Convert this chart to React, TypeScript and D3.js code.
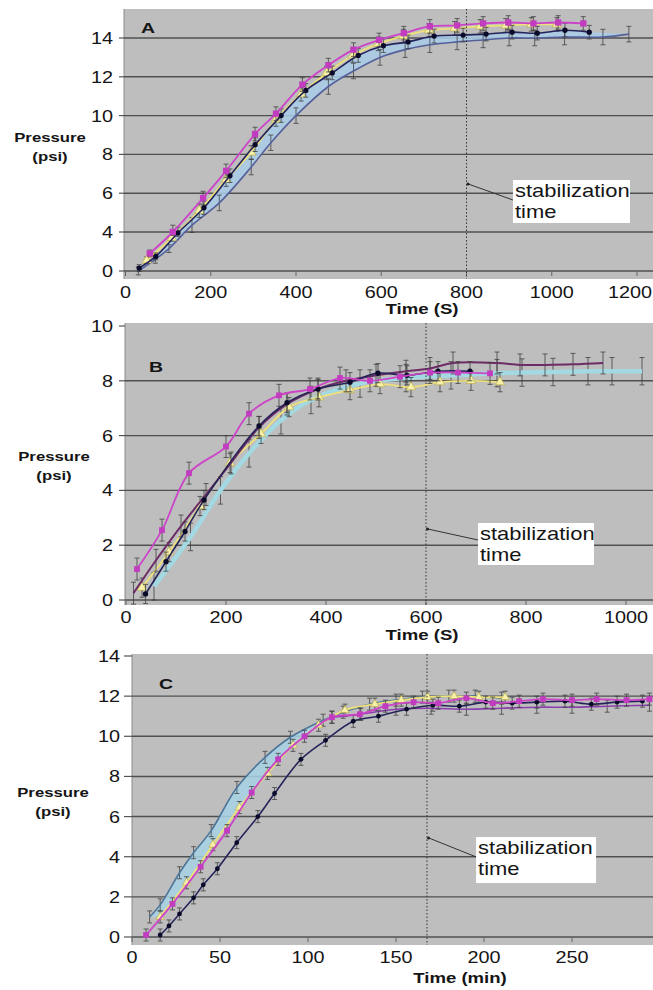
import React from 'react';
import * as d3 from 'd3';

// ---------- Panel A data: [time (s), pressure (psi)] ----------
const aMagenta = [[57,1.8],[111,4.0],[182,5.75],[236,7.15],[304,9.05],[353,10.1],[415,11.6],[476,12.6],[535,13.4],[595,13.9],[653,14.25],[714,14.6],[778,14.65],[839,14.75],[898,14.8],[957,14.75],[1015,14.8],[1074,14.75]];
const aYellow = [[50,1.1],[109,3.4],[173,5.1],[236,6.7],[295,8.1],[353,9.8],[412,11.1],[472,12.2],[533,13.1],[593,13.7],[652,14.1],[712,14.4],[772,14.5],[832,14.6],[892,14.65],[952,14.7],[1012,14.7]];
const aNavy = [[32,0.3],[71,1.5],[123,3.9],[184,5.25],[245,6.9],[304,8.5],[365,10.0],[423,11.3],[485,12.2],[546,13.1],[605,13.6],[663,13.8],[724,14.1],[792,14.15],[846,14.2],[907,14.3],[966,14.25],[1031,14.4],[1088,14.3]];
const aLower = [[30,0.0],[70,1.2],[102,2.3],[156,4.35],[220,5.5],[295,7.35],[341,8.6],[400,10.0],[476,11.5],[535,12.3],[597,13.0],[656,13.4],[714,13.65],[778,13.8],[839,13.9],[900,14.0],[960,14.0],[1030,14.05],[1120,14.05],[1181,14.2]];

// ---------- Panel B data ----------
const bMagenta = [[22,1.13],[72,2.55],[126,4.63],[200,5.6],[246,6.8],[306,7.47],[368,7.7],[428,8.1],[488,8.0],[548,8.15],[608,8.3],[664,8.3],[728,8.27]];
const bMaroon = [[15,0.25],[60,1.45],[110,2.7],[160,3.85],[210,5.0],[266,6.3],[322,7.15],[384,7.7],[440,8.0],[500,8.2],[560,8.35],[608,8.45],[654,8.65],[742,8.65],[788,8.58],[838,8.58],[894,8.6],[954,8.65]];
const bNavy = [[39,0.22],[80,1.4],[118,2.5],[156,3.65],[266,6.35],[322,7.2],[384,7.7],[448,7.95],[504,8.28],[562,8.2],[624,8.35],[688,8.35]];
const bYellow = [[32,0.45],[86,1.75],[148,3.43],[208,5.0],[270,6.06],[326,7.04],[386,7.4],[448,7.66],[508,7.88],[570,7.77],[628,7.95],[690,8.0],[748,7.95]];
const bCyan = [[56,0.5],[129,2.3],[189,4.0],[246,5.35],[310,6.56],[370,7.3],[468,7.9],[560,8.1],[650,8.2],[742,8.28],[792,8.3],[854,8.32],[924,8.35],[972,8.35],[1032,8.35]];

// ---------- Panel C data: [time (min), pressure (psi)] ----------
const cMagenta = [[8,0.1],[23,1.65],[39,3.5],[54,5.3],[68,7.2],[83,8.85],[98,10.0],[113.6,10.95],[129.5,11.1],[144,11.5],[160,11.7],[174,11.65],[190,11.9],[205,11.65],[220,11.75],[233.5,11.85],[250,11.8],[264,11.85],[281,11.8],[294,11.85]];
const cYellow = [[16,1.0],[31,2.7],[46,4.6],[61,6.45],[77,8.15],[91.5,9.55],[106,10.55],[121,11.3],[138,11.6],[153,11.8],[168,11.95],[183,12.0],[197,11.95],[212,11.95]];
const cTeal = [[10,1.0],[16,1.6],[27,3.2],[35,4.2],[45,5.3],[59.6,7.45],[75.6,8.95],[90,9.95],[108.6,10.8],[120,11.2],[135,11.6],[150,11.8],[165,11.95],[180,12.0],[195,12.0],[210,11.9]];
const cNavy = [[16,0.1],[21,0.55],[27,1.15],[35,1.95],[40.5,2.6],[48.5,3.4],[59.5,4.7],[71.5,6.0],[81,7.15],[96,8.85],[110,9.8],[125.7,10.75],[140,11.0],[156,11.35],[171,11.55],[186,11.5],[201,11.7],[216,11.65],[230,11.7],[246,11.75],[261,11.6],[275.6,11.7],[290,11.75]];
const cViolet = [[113.6,10.95],[130,11.1],[150,11.35],[170,11.4],[190,11.35],[210,11.4],[230,11.45],[250,11.45],[270,11.5],[294,11.55]];

// ---------- Axes ----------
const aTicksX = [0,200,400,600,800,1000,1200];
const aTicksY = [0,4,6,8,10,12,14];
const bTicksX = [0,200,400,600,800,1000];
const bTicksY = [0,2,4,6,8,10];
const cTicksX = [0,50,100,150,200,250];
const cTicksY = [0,2,4,6,8,10,12,14];
const stabilizationTimes = [800, 600, 167.6];
const xTitles = ['Time (S)', 'Time (S)', 'Time (min)'];
const panelLetters = ['A', 'B', 'C'];

const SX = 1.24;
const FONT = 'Liberation Sans, Arial, sans-serif';

function Txt({x, y, anchor = 'start', size = 16, weight = 400, children, sx = SX}: any) {
  return (
    <text transform={`translate(${x},${y}) scale(${sx},1)`} textAnchor={anchor}
      fontSize={size} fontWeight={weight} fontFamily={FONT} fill="#151515">{children}</text>
  );
}

const curve = d3.curveCatmullRom.alpha(0.5);

function Panel({cfg}: any) {
  const {x, y, rect, xTicks, yTicks, gridY, yLabelX, tickLen, xLabY, titleX, titleY, pressY, pressX,
    letter, letterPos, stabT, ann, series, band, xTitle} = cfg;
  const line = d3.line<number[]>().x(d => x(d[0])).y(d => y(d[1])).curve(curve);
  let bandPath = null;
  if (band) {
    const up = line(band.upper) as string;
    const low = line([...band.lower].reverse()) as string;
    bandPath = up + 'L' + low.slice(1) + 'Z';
  }
  const sym = (type: string, size: number) => {
    const t = type === 'square' ? d3.symbolSquare : type === 'tri' ? d3.symbolTriangle : d3.symbolCircle;
    return d3.symbol().type(t).size(size)() as string;
  };
  const sx = x(stabT);
  return (
    <g>
      <rect x={rect.x0} y={rect.y0} width={rect.x1 - rect.x0} height={rect.y1 - rect.y0} fill="#bebebe" />
      <line x1={rect.x0} x2={rect.x0} y1={rect.y0} y2={rect.y1} stroke="#8a8a8a" strokeWidth={1} />
      {gridY.map((v: number) => (
        <line key={'g' + v} x1={rect.x0} x2={rect.x1} y1={y(v)} y2={y(v)} stroke="#505050" strokeWidth={1.4} />
      ))}
      {yTicks.map((v: number) => (
        <g key={'yt' + v}>
          <line x1={rect.x0 - tickLen} x2={rect.x0} y1={y(v)} y2={y(v)} stroke="#555" strokeWidth={1.2} />
          <Txt x={yLabelX} y={y(v) + 6} anchor="end" size={16}>{v}</Txt>
        </g>
      ))}
      {xTicks.map((v: number) => {
        const half = String(v).length * 8.9 * SX / 2;
        const lx = Math.min(x(v), 652 - half);
        return (
          <g key={'xt' + v}>
            <line x1={x(v)} x2={x(v)} y1={y(0)} y2={y(0) + 5} stroke="#666" strokeWidth={1} />
            <Txt x={lx} y={xLabY} anchor="middle" size={16}>{v}</Txt>
          </g>
        );
      })}
      <Txt x={titleX} y={titleY} anchor="middle" size={15} weight={700}>{xTitle}</Txt>
      <Txt x={pressX} y={pressY} anchor="middle" size={13.5} weight={700}>Pressure</Txt>
      <Txt x={pressX} y={pressY + 19} anchor="middle" size={13.5} weight={700}>(psi)</Txt>
      <Txt x={letterPos[0]} y={letterPos[1]} size={15} weight={900} sx={1.3}>{letter}</Txt>

      {bandPath && <path d={bandPath} fill={band.fill} opacity={0.85} />}
      {series.map((s: any, i: number) => (
        <g key={'s' + i}>
          {s.data.map((d: number[], j: number) => {
            const px = x(d[0]);
            const y1 = y(d[1] - s.err), y2 = y(d[1] + s.err);
            return (
              <g key={j} stroke="#3c3c3c" strokeWidth={0.9} opacity={0.85}>
                <line x1={px} x2={px} y1={y1} y2={y2} />
                <line x1={px - 2.5} x2={px + 2.5} y1={y1} y2={y1} />
                <line x1={px - 2.5} x2={px + 2.5} y1={y2} y2={y2} />
              </g>
            );
          })}
          <path d={line(s.data) as string} fill="none" stroke={s.color} strokeWidth={s.width} strokeLinejoin="round" />
          {s.marker && s.data.map((d: number[], j: number) => (
            <path key={'m' + j} d={sym(s.marker, s.msize)} transform={`translate(${x(d[0])},${y(d[1])})`}
              fill={s.mfill} stroke={s.mstroke || 'none'} strokeWidth={0.6} />
          ))}
        </g>
      ))}

      <line x1={sx} x2={sx} y1={rect.y0} y2={rect.y1} stroke="#333" strokeWidth={1} strokeDasharray="1.5,2" />
      <line x1={x(ann.fromT)} y1={y(ann.fromV)} x2={sx + 2} y2={y(ann.toV)} stroke="#333" strokeWidth={1} />
      <circle cx={sx + 1.5} cy={y(ann.toV)} r={1.5} fill="#222" />
      <rect x={x(ann.boxT)} y={y(ann.boxV)} width={ann.w} height={ann.h} fill="#ffffff" />
      <Txt x={x(ann.boxT) + 2} y={y(ann.boxV) + 17} size={18} sx={1.22}>stabilization</Txt>
      <Txt x={x(ann.boxT) + 2} y={y(ann.boxV) + 38} size={18} sx={1.22}>time</Txt>
    </g>
  );
}

export default function App() {
  const mag = {color: '#cc44c8', width: 1.8, marker: 'square', msize: 40, mfill: '#c23cc0'};
  const yel = {color: '#eee07a', width: 1.8, marker: 'tri', msize: 38, mfill: '#f6f0a8', mstroke: '#b8a840'};
  const nav = {color: '#24245a', width: 1.6, marker: 'circle', msize: 22, mfill: '#0a0a2a'};

  const panelA = {
    x: d3.scaleLinear().domain([0, 1200]).range([125.5, 637]),
    y: d3.scaleLinear().domain([0, 4, 14]).range([271, 232, 38]),
    rect: {x0: 124, x1: 653, y0: 9, y1: 279},
    xTicks: aTicksX, yTicks: aTicksY, gridY: aTicksY,
    yLabelX: 113, tickLen: 5, xLabY: 298, titleX: 422, titleY: 314, pressX: 50, pressY: 142,
    letter: panelLetters[0], letterPos: [141, 33], stabT: stabilizationTimes[0], xTitle: xTitles[0],
    ann: {boxT: 909, boxV: 6.68, fromT: 909, fromV: 5.65, toV: 6.47, w: 117, h: 43},
    band: {upper: aNavy, lower: aLower, fill: '#a9cde8'},
    series: [
      {data: aLower, color: '#55609a', width: 1.6, marker: null, err: 0.4},
      {data: aYellow, ...yel, err: 0.35},
      {data: aNavy, ...nav, err: 0.35},
      {data: aMagenta, ...mag, err: 0.35},
    ],
  };
  const panelB = {
    x: d3.scaleLinear().domain([0, 1000]).range([126, 626]),
    y: d3.scaleLinear().domain([0, 10]).range([600, 326]),
    rect: {x0: 125, x1: 653, y0: 323, y1: 605},
    xTicks: bTicksX, yTicks: bTicksY, gridY: [0, 2, 4, 6, 8],
    yLabelX: 113, tickLen: 6, xLabY: 623, titleX: 422, titleY: 640, pressX: 54, pressY: 461,
    letter: panelLetters[1], letterPos: [149, 372], stabT: stabilizationTimes[1], xTitle: xTitles[1],
    ann: {boxT: 704, boxV: 2.81, fromT: 704, fromV: 2.19, toV: 2.59, w: 116, h: 42},
    band: null,
    series: [
      {data: bCyan, color: '#a3d9e2', width: 4.5, marker: null, err: 0.5},
      {data: bYellow, ...yel, err: 0.35},
      {data: bMaroon, color: '#6e2c66', width: 2, marker: null, err: 0.4},
      {data: bNavy, ...nav, err: 0.35},
      {data: bMagenta, ...mag, msize: 34, err: 0.4},
    ],
  };
  const panelC = {
    x: d3.scaleLinear().domain([0, 300]).range([132, 660]),
    y: d3.scaleLinear().domain([0, 14]).range([937, 656]),
    rect: {x0: 132, x1: 653, y0: 654, y1: 945},
    xTicks: cTicksX, yTicks: cTicksY, gridY: [0, 2, 4, 6, 8, 10, 12],
    yLabelX: 120, tickLen: 8, xLabY: 963, titleX: 460, titleY: 983, pressX: 53, pressY: 797,
    letter: panelLetters[2], letterPos: [159, 689], stabT: stabilizationTimes[2], xTitle: xTitles[2],
    ann: {boxT: 195.5, boxV: 4.98, fromT: 195.5, fromV: 3.99, toV: 4.93, w: 120, h: 46},
    band: {upper: cTeal, lower: cYellow, fill: '#a7d3e6'},
    series: [
      {data: cTeal, color: '#4d7598', width: 1.6, marker: null, err: 0.3},
      {data: cYellow, ...yel, msize: 30, err: 0.3},
      {data: cViolet, color: '#8a3fae', width: 1.6, marker: null, err: 0.3},
      {data: cNavy, ...nav, msize: 18, err: 0.3},
      {data: cMagenta, ...mag, msize: 34, err: 0.3},
    ],
  };

  return (
    <svg width={653} height={990} style={{position: 'absolute', left: 0, top: 0, background: '#fff'}}>
      <rect width={653} height={990} fill="#fff" />
      <Panel cfg={panelA} />
      <Panel cfg={panelB} />
      <Panel cfg={panelC} />
    </svg>
  );
}
